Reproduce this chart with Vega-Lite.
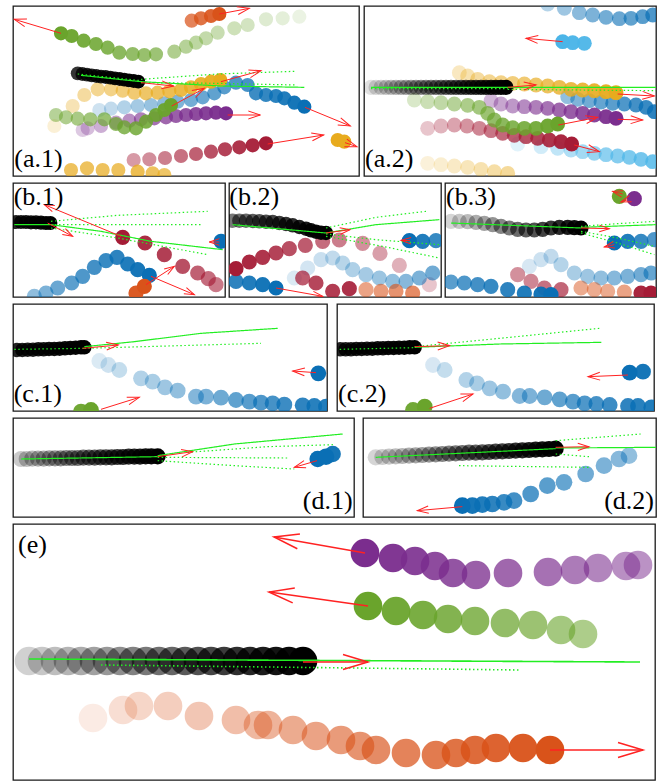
{
"$schema":"https://vega.github.io/schema/vega-lite/v6.json",
"background":"white",
"padding":{"left":12,"top":5,"right":0,"bottom":0},
"autosize":{"type":"pad"},
"spacing":5,
"config":{"view":{"stroke":"#1a1a1a","strokeWidth":1.3},"axis":{"disable":true},"legend":{"disable":true}},
"datasets":{
"a1":[
{"k":"d","g":"o","x":655,"y":42,"a":0},{"k":"d","g":"o","x":630,"y":48,"a":0.1},{"k":"d","g":"o","x":600,"y":55,"a":0.2},{"k":"d","g":"o","x":572,"y":62,"a":0.3},
{"k":"d","g":"g","x":180,"y":100,"a":0},{"k":"d","g":"g","x":212,"y":108,"a":0.05},{"k":"d","g":"g","x":248,"y":122,"a":0.1},{"k":"d","g":"g","x":285,"y":132,"a":0.15},{"k":"d","g":"g","x":320,"y":143,"a":0.2},{"k":"d","g":"g","x":355,"y":158,"a":0.25},{"k":"d","g":"g","x":395,"y":162,"a":0.3},{"k":"d","g":"g","x":430,"y":165,"a":0.33},{"k":"d","g":"g","x":465,"y":163,"a":0.37},{"k":"d","g":"g","x":520,"y":155,"a":0.5},{"k":"d","g":"g","x":555,"y":140,"a":0.55},{"k":"d","g":"g","x":585,"y":128,"a":0.6},{"k":"d","g":"g","x":615,"y":115,"a":0.64},{"k":"d","g":"g","x":650,"y":98,"a":0.68},{"k":"d","g":"g","x":700,"y":85,"a":0.72},{"k":"d","g":"g","x":740,"y":75,"a":0.76},{"k":"d","g":"g","x":795,"y":58,"a":0.84},{"k":"d","g":"g","x":845,"y":55,"a":0.88},{"k":"d","g":"g","x":895,"y":50,"a":0.93},
{"k":"d","g":"k","x":230,"y":220,"a":0.22},{"k":"d","g":"k","x":244,"y":222,"a":0.2},{"k":"d","g":"k","x":258,"y":224,"a":0.18},{"k":"d","g":"k","x":272,"y":226,"a":0.17},{"k":"d","g":"k","x":286,"y":228,"a":0.15},{"k":"d","g":"k","x":300,"y":230,"a":0.13},{"k":"d","g":"k","x":314,"y":231,"a":0.12},{"k":"d","g":"k","x":328,"y":233,"a":0.1},{"k":"d","g":"k","x":342,"y":235,"a":0.08},{"k":"d","g":"k","x":356,"y":237,"a":0.07},{"k":"d","g":"k","x":370,"y":239,"a":0.05},{"k":"d","g":"k","x":384,"y":241,"a":0.03},{"k":"d","g":"k","x":398,"y":243,"a":0.02},{"k":"d","g":"k","x":412,"y":245,"a":0},
{"k":"d","g":"y","x":658,"y":240,"a":0},{"k":"d","g":"y","x":630,"y":245,"a":0.05},{"k":"d","g":"y","x":600,"y":252,"a":0.1},{"k":"d","g":"y","x":570,"y":262,"a":0.15},{"k":"d","g":"y","x":540,"y":270,"a":0.2},{"k":"d","g":"y","x":505,"y":274,"a":0.25},{"k":"d","g":"y","x":470,"y":278,"a":0.3},{"k":"d","g":"y","x":435,"y":280,"a":0.35},{"k":"d","g":"y","x":400,"y":278,"a":0.4},{"k":"d","g":"y","x":365,"y":272,"a":0.45},{"k":"d","g":"y","x":330,"y":268,"a":0.5},{"k":"d","g":"y","x":290,"y":268,"a":0.55},{"k":"d","g":"y","x":250,"y":285,"a":0.62},{"k":"d","g":"y","x":215,"y":318,"a":0.72},{"k":"d","g":"y","x":160,"y":378,"a":0.88},
{"k":"d","g":"b","x":910,"y":320,"a":0},{"k":"d","g":"b","x":880,"y":308,"a":0.05},{"k":"d","g":"b","x":850,"y":295,"a":0.1},{"k":"d","g":"b","x":825,"y":288,"a":0.14},{"k":"d","g":"b","x":795,"y":285,"a":0.18},{"k":"d","g":"b","x":765,"y":280,"a":0.22},{"k":"d","g":"b","x":740,"y":255,"a":0.26},{"k":"d","g":"b","x":705,"y":248,"a":0.3},{"k":"d","g":"b","x":670,"y":262,"a":0.34},{"k":"d","g":"b","x":640,"y":280,"a":0.38},{"k":"d","g":"b","x":605,"y":292,"a":0.42},{"k":"d","g":"b","x":570,"y":300,"a":0.46},{"k":"d","g":"b","x":530,"y":305,"a":0.52},{"k":"d","g":"b","x":490,"y":310,"a":0.57},{"k":"d","g":"b","x":450,"y":315,"a":0.62},{"k":"d","g":"b","x":410,"y":318,"a":0.68},{"k":"d","g":"b","x":370,"y":322,"a":0.74},{"k":"d","g":"b","x":330,"y":326,"a":0.8},{"k":"d","g":"b","x":295,"y":330,"a":0.86},
{"k":"d","g":"p","x":675,"y":340,"a":0},{"k":"d","g":"p","x":645,"y":338,"a":0.05},{"k":"d","g":"p","x":615,"y":340,"a":0.1},{"k":"d","g":"p","x":585,"y":342,"a":0.15},{"k":"d","g":"p","x":555,"y":345,"a":0.2},{"k":"d","g":"p","x":525,"y":348,"a":0.25},{"k":"d","g":"p","x":495,"y":352,"a":0.3},{"k":"d","g":"p","x":460,"y":355,"a":0.35},{"k":"d","g":"p","x":420,"y":358,"a":0.42},{"k":"d","g":"p","x":385,"y":362,"a":0.5},{"k":"d","g":"p","x":345,"y":368,"a":0.58},{"k":"d","g":"p","x":300,"y":378,"a":0.66},{"k":"d","g":"p","x":260,"y":385,"a":0.74},{"k":"d","g":"p","x":245,"y":390,"a":0.8},
{"k":"d","g":"g","x":510,"y":315,"a":0},{"k":"d","g":"g","x":490,"y":330,"a":0.05},{"k":"d","g":"g","x":465,"y":345,"a":0.1},{"k":"d","g":"g","x":435,"y":365,"a":0.15},{"k":"d","g":"g","x":405,"y":385,"a":0.2},{"k":"d","g":"g","x":370,"y":382,"a":0.25},{"k":"d","g":"g","x":345,"y":372,"a":0.3},{"k":"d","g":"g","x":310,"y":358,"a":0.35},{"k":"d","g":"g","x":268,"y":358,"a":0.4},{"k":"d","g":"g","x":230,"y":356,"a":0.45},{"k":"d","g":"g","x":195,"y":352,"a":0.5},{"k":"d","g":"g","x":165,"y":345,"a":0.55},
{"k":"d","g":"r","x":795,"y":430,"a":0},{"k":"d","g":"r","x":755,"y":436,"a":0.06},{"k":"d","g":"r","x":715,"y":442,"a":0.12},{"k":"d","g":"r","x":672,"y":448,"a":0.18},{"k":"d","g":"r","x":630,"y":455,"a":0.25},{"k":"d","g":"r","x":585,"y":462,"a":0.32},{"k":"d","g":"r","x":540,"y":468,"a":0.4},{"k":"d","g":"r","x":492,"y":474,"a":0.47},{"k":"d","g":"r","x":445,"y":478,"a":0.54},{"k":"d","g":"r","x":398,"y":480,"a":0.6},
{"k":"d","g":"y","x":210,"y":510,"a":0.3},{"k":"d","g":"y","x":258,"y":505,"a":0.3},{"k":"d","g":"y","x":305,"y":510,"a":0.3},{"k":"d","g":"y","x":352,"y":510,"a":0.3},{"k":"d","g":"y","x":410,"y":515,"a":0.25},{"k":"d","g":"y","x":455,"y":520,"a":0.3},{"k":"d","g":"y","x":490,"y":525,"a":0.35},
{"k":"d","g":"y","x":1010,"y":420,"a":0},{"k":"d","g":"y","x":1030,"y":425,"a":0},
{"k":"l","id":"1","s":"solid","x":240,"y":226},{"k":"l","id":"1","s":"solid","x":420,"y":245},{"k":"l","id":"1","s":"solid","x":660,"y":258},{"k":"l","id":"1","s":"solid","x":910,"y":262},
{"k":"l","id":"2","s":"dot","x":420,"y":238},{"k":"l","id":"2","s":"dot","x":650,"y":222},{"k":"l","id":"2","s":"dot","x":880,"y":214},
{"k":"l","id":"3","s":"dot","x":420,"y":248},{"k":"l","id":"3","s":"dot","x":650,"y":250},{"k":"l","id":"3","s":"dot","x":885,"y":255},
{"k":"l","id":"4","s":"dot","x":230,"y":222},{"k":"l","id":"4","s":"dot","x":420,"y":242},
{"k":"v","x":655,"y":42,"x2":745,"y2":25},{"k":"v","x":180,"y":100,"x2":40,"y2":58},{"k":"v","x":420,"y":248,"x2":518,"y2":258},{"k":"v","x":660,"y":245,"x2":780,"y2":212},{"k":"v","x":912,"y":322,"x2":1048,"y2":378},{"k":"v","x":680,"y":345,"x2":778,"y2":345},{"k":"v","x":512,"y":318,"x2":610,"y2":265},{"k":"v","x":800,"y":432,"x2":968,"y2":405},{"k":"v","x":1032,"y":428,"x2":1068,"y2":440},
{"k":"t","x":40,"y":500,"txt":"(a.1)"}
],
"a2":[
{"k":"d","g":"b","x":875,"y":45,"a":0.3},{"k":"d","g":"b","x":845,"y":50,"a":0.34},{"k":"d","g":"b","x":810,"y":55,"a":0.38},{"k":"d","g":"b","x":775,"y":56,"a":0.42},{"k":"d","g":"b","x":735,"y":52,"a":0.46},{"k":"d","g":"b","x":695,"y":45,"a":0.5},{"k":"d","g":"b","x":655,"y":38,"a":0.56},{"k":"d","g":"b","x":610,"y":25,"a":0.65},{"k":"d","g":"b","x":560,"y":12,"a":0.75},
{"k":"d","g":"s","x":605,"y":125,"a":0},{"k":"d","g":"s","x":635,"y":128,"a":0.03},{"k":"d","g":"s","x":670,"y":130,"a":0.06},
{"k":"d","g":"y","x":765,"y":278,"a":0},{"k":"d","g":"y","x":735,"y":275,"a":0.05},{"k":"d","g":"y","x":700,"y":272,"a":0.1},{"k":"d","g":"y","x":665,"y":270,"a":0.15},{"k":"d","g":"y","x":630,"y":268,"a":0.2},{"k":"d","g":"y","x":595,"y":262,"a":0.25},{"k":"d","g":"y","x":560,"y":258,"a":0.3},{"k":"d","g":"y","x":525,"y":255,"a":0.35},{"k":"d","g":"y","x":490,"y":252,"a":0.4},{"k":"d","g":"y","x":455,"y":250,"a":0.45},{"k":"d","g":"y","x":420,"y":248,"a":0.5},{"k":"d","g":"y","x":385,"y":245,"a":0.55},{"k":"d","g":"y","x":350,"y":238,"a":0.62},{"k":"d","g":"y","x":320,"y":228,"a":0.7},{"k":"d","g":"y","x":295,"y":218,"a":0.78},
{"k":"d","g":"b","x":880,"y":335,"a":0.15},{"k":"d","g":"b","x":855,"y":322,"a":0.2},{"k":"d","g":"b","x":825,"y":315,"a":0.25},{"k":"d","g":"b","x":790,"y":312,"a":0.3},{"k":"d","g":"b","x":755,"y":310,"a":0.35},{"k":"d","g":"b","x":720,"y":306,"a":0.4},{"k":"d","g":"b","x":685,"y":302,"a":0.45},{"k":"d","g":"b","x":650,"y":298,"a":0.52},{"k":"d","g":"b","x":620,"y":290,"a":0.6},
{"k":"d","g":"p","x":765,"y":355,"a":0},{"k":"d","g":"p","x":735,"y":350,"a":0.06},{"k":"d","g":"p","x":700,"y":345,"a":0.12},{"k":"d","g":"p","x":665,"y":340,"a":0.18},{"k":"d","g":"p","x":630,"y":335,"a":0.24},{"k":"d","g":"p","x":595,"y":330,"a":0.3},{"k":"d","g":"p","x":560,"y":325,"a":0.36},{"k":"d","g":"p","x":525,"y":322,"a":0.42},{"k":"d","g":"p","x":490,"y":320,"a":0.48},{"k":"d","g":"p","x":455,"y":318,"a":0.55},{"k":"d","g":"p","x":420,"y":312,"a":0.62},{"k":"d","g":"p","x":390,"y":302,"a":0.7},
{"k":"d","g":"g","x":590,"y":372,"a":0},{"k":"d","g":"g","x":560,"y":378,"a":0.05},{"k":"d","g":"g","x":525,"y":385,"a":0.1},{"k":"d","g":"g","x":490,"y":385,"a":0.15},{"k":"d","g":"g","x":455,"y":383,"a":0.2},{"k":"d","g":"g","x":425,"y":375,"a":0.25},{"k":"d","g":"g","x":400,"y":360,"a":0.3},{"k":"d","g":"g","x":380,"y":340,"a":0.36},{"k":"d","g":"g","x":355,"y":322,"a":0.42},{"k":"d","g":"g","x":320,"y":316,"a":0.48},{"k":"d","g":"g","x":280,"y":312,"a":0.55},{"k":"d","g":"g","x":240,"y":308,"a":0.62},{"k":"d","g":"g","x":200,"y":305,"a":0.7},{"k":"d","g":"g","x":160,"y":300,"a":0.8},
{"k":"d","g":"r","x":632,"y":432,"a":0},{"k":"d","g":"r","x":600,"y":425,"a":0.06},{"k":"d","g":"r","x":565,"y":420,"a":0.12},{"k":"d","g":"r","x":530,"y":415,"a":0.18},{"k":"d","g":"r","x":495,"y":410,"a":0.24},{"k":"d","g":"r","x":460,"y":406,"a":0.3},{"k":"d","g":"r","x":425,"y":400,"a":0.36},{"k":"d","g":"r","x":390,"y":392,"a":0.42},{"k":"d","g":"r","x":355,"y":385,"a":0.5},{"k":"d","g":"r","x":318,"y":378,"a":0.57},{"k":"d","g":"r","x":280,"y":375,"a":0.64},{"k":"d","g":"r","x":240,"y":378,"a":0.72},{"k":"d","g":"r","x":200,"y":385,"a":0.8},
{"k":"d","g":"s","x":875,"y":485,"a":0.2},{"k":"d","g":"s","x":840,"y":478,"a":0.25},{"k":"d","g":"s","x":805,"y":472,"a":0.3},{"k":"d","g":"s","x":770,"y":468,"a":0.35},{"k":"d","g":"s","x":735,"y":464,"a":0.4},{"k":"d","g":"s","x":700,"y":460,"a":0.46},{"k":"d","g":"s","x":665,"y":455,"a":0.52},{"k":"d","g":"s","x":630,"y":450,"a":0.6},{"k":"d","g":"s","x":590,"y":445,"a":0.7},{"k":"d","g":"s","x":540,"y":440,"a":0.8},{"k":"d","g":"s","x":470,"y":432,"a":0.9},
{"k":"d","g":"y","x":440,"y":520,"a":0.6},{"k":"d","g":"y","x":400,"y":515,"a":0.65},{"k":"d","g":"y","x":360,"y":508,"a":0.7},{"k":"d","g":"y","x":320,"y":502,"a":0.75},{"k":"d","g":"y","x":280,"y":498,"a":0.8},{"k":"d","g":"y","x":240,"y":494,"a":0.85},{"k":"d","g":"y","x":200,"y":490,"a":0.9},
{"k":"d","g":"k","x":30,"y":262,"a":0.95},{"k":"d","g":"k","x":45,"y":262,"a":0.91},{"k":"d","g":"k","x":60,"y":262,"a":0.88},{"k":"d","g":"k","x":75,"y":262,"a":0.84},{"k":"d","g":"k","x":90,"y":262,"a":0.81},{"k":"d","g":"k","x":105,"y":262,"a":0.77},{"k":"d","g":"k","x":120,"y":262,"a":0.74},{"k":"d","g":"k","x":135,"y":262,"a":0.7},{"k":"d","g":"k","x":150,"y":262,"a":0.67},{"k":"d","g":"k","x":165,"y":262,"a":0.63},{"k":"d","g":"k","x":180,"y":262,"a":0.6},{"k":"d","g":"k","x":195,"y":262,"a":0.57},{"k":"d","g":"k","x":210,"y":262,"a":0.53},{"k":"d","g":"k","x":225,"y":262,"a":0.5},{"k":"d","g":"k","x":240,"y":262,"a":0.46},{"k":"d","g":"k","x":255,"y":262,"a":0.43},{"k":"d","g":"k","x":270,"y":262,"a":0.39},{"k":"d","g":"k","x":285,"y":262,"a":0.36},{"k":"d","g":"k","x":300,"y":262,"a":0.32},{"k":"d","g":"k","x":315,"y":262,"a":0.29},{"k":"d","g":"k","x":330,"y":262,"a":0.25},{"k":"d","g":"k","x":345,"y":262,"a":0.22},{"k":"d","g":"k","x":360,"y":262,"a":0.18},{"k":"d","g":"k","x":375,"y":262,"a":0.15},{"k":"d","g":"k","x":390,"y":262,"a":0.11},{"k":"d","g":"k","x":405,"y":262,"a":0.08},{"k":"d","g":"k","x":420,"y":262,"a":0.04},{"k":"d","g":"k","x":435,"y":262,"a":0},
{"k":"l","id":"1","s":"solid","x":30,"y":262},{"k":"l","id":"1","s":"solid","x":885,"y":262},
{"k":"l","id":"2","s":"dot","x":440,"y":268},{"k":"l","id":"2","s":"dot","x":885,"y":272},
{"k":"l","id":"3","s":"dot","x":30,"y":266},{"k":"l","id":"3","s":"dot","x":440,"y":266},
{"k":"v","x":605,"y":125,"x2":495,"y2":115},{"k":"v","x":440,"y":262,"x2":525,"y2":255},{"k":"v","x":770,"y":282,"x2":880,"y2":288},{"k":"v","x":770,"y":358,"x2":845,"y2":360},{"k":"v","x":592,"y":375,"x2":710,"y2":352},{"k":"v","x":640,"y":435,"x2":715,"y2":455},
{"k":"t","x":12,"y":500,"txt":"(a.2)"}
],
"b1":[
{"k":"d","g":"r","x":365,"y":178,"a":0},{"k":"d","g":"r","x":432,"y":195,"a":0.08},{"k":"d","g":"r","x":490,"y":230,"a":0.16},{"k":"d","g":"r","x":545,"y":265,"a":0.24},{"k":"d","g":"r","x":590,"y":285,"a":0.32},{"k":"d","g":"r","x":622,"y":302,"a":0.38},{"k":"d","g":"r","x":645,"y":320,"a":0.44},
{"k":"d","g":"b","x":660,"y":190,"a":0},
{"k":"d","g":"b","x":445,"y":292,"a":0},{"k":"d","g":"b","x":410,"y":275,"a":0.05},{"k":"d","g":"b","x":380,"y":258,"a":0.1},{"k":"d","g":"b","x":348,"y":238,"a":0.15},{"k":"d","g":"b","x":315,"y":248,"a":0.2},{"k":"d","g":"b","x":280,"y":268,"a":0.25},{"k":"d","g":"b","x":245,"y":295,"a":0.3},{"k":"d","g":"b","x":212,"y":315,"a":0.36},{"k":"d","g":"b","x":170,"y":330,"a":0.42},{"k":"d","g":"b","x":135,"y":345,"a":0.5},{"k":"d","g":"b","x":100,"y":355,"a":0.58},
{"k":"d","g":"o","x":405,"y":345,"a":0.05},{"k":"d","g":"o","x":430,"y":325,"a":0},
{"k":"d","g":"k","x":45,"y":132,"a":0.15},{"k":"d","g":"k","x":60,"y":132,"a":0.13},{"k":"d","g":"k","x":75,"y":132,"a":0.11},{"k":"d","g":"k","x":90,"y":133,"a":0.09},{"k":"d","g":"k","x":105,"y":133,"a":0.07},{"k":"d","g":"k","x":120,"y":134,"a":0.05},{"k":"d","g":"k","x":135,"y":135,"a":0.03},{"k":"d","g":"k","x":148,"y":135,"a":0},
{"k":"l","id":"1","s":"solid","x":150,"y":140},{"k":"l","id":"1","s":"solid","x":300,"y":160},{"k":"l","id":"1","s":"solid","x":450,"y":190},{"k":"l","id":"1","s":"solid","x":665,"y":215},
{"k":"l","id":"2","s":"dot","x":150,"y":130},{"k":"l","id":"2","s":"dot","x":350,"y":112},{"k":"l","id":"2","s":"dot","x":620,"y":100},
{"k":"l","id":"3","s":"dot","x":150,"y":140},{"k":"l","id":"3","s":"dot","x":400,"y":140},{"k":"l","id":"3","s":"dot","x":600,"y":140},
{"k":"l","id":"4","s":"dot","x":150,"y":150},{"k":"l","id":"4","s":"dot","x":350,"y":180},{"k":"l","id":"4","s":"dot","x":620,"y":230},
{"k":"l","id":"5","s":"solid","x":40,"y":140},{"k":"l","id":"5","s":"solid","x":150,"y":140},
{"k":"v","x":140,"y":135,"x2":215,"y2":175},{"k":"v","x":360,"y":175,"x2":130,"y2":80},{"k":"v","x":655,"y":192,"x2":625,"y2":192},{"k":"v","x":450,"y":295,"x2":580,"y2":350},{"k":"v","x":435,"y":320,"x2":520,"y2":265},
{"k":"t","x":38,"y":82,"txt":"(b.1)"}
],
"b2":[
{"k":"d","g":"b","x":620,"y":285,"a":0.45},{"k":"d","g":"b","x":580,"y":300,"a":0.5},{"k":"d","g":"b","x":540,"y":310,"a":0.55},{"k":"d","g":"b","x":500,"y":310,"a":0.6},{"k":"d","g":"b","x":460,"y":300,"a":0.64},{"k":"d","g":"b","x":420,"y":290,"a":0.68},{"k":"d","g":"b","x":380,"y":275,"a":0.72},{"k":"d","g":"b","x":350,"y":255,"a":0.76},{"k":"d","g":"b","x":320,"y":240,"a":0.8},{"k":"d","g":"b","x":285,"y":245,"a":0.84},{"k":"d","g":"b","x":245,"y":270,"a":0.88},{"k":"d","g":"b","x":205,"y":300,"a":0.92},
{"k":"d","g":"r","x":30,"y":272,"a":0},{"k":"d","g":"r","x":70,"y":252,"a":0.06},{"k":"d","g":"r","x":110,"y":238,"a":0.12},{"k":"d","g":"r","x":150,"y":225,"a":0.18},{"k":"d","g":"r","x":190,"y":212,"a":0.24},{"k":"d","g":"r","x":238,"y":202,"a":0.3},{"k":"d","g":"r","x":290,"y":190,"a":0.38},{"k":"d","g":"r","x":340,"y":186,"a":0.46},{"k":"d","g":"r","x":410,"y":196,"a":0.55},{"k":"d","g":"r","x":462,"y":226,"a":0.62},{"k":"d","g":"r","x":520,"y":262,"a":0.7},
{"k":"d","g":"b","x":550,"y":188,"a":0},{"k":"d","g":"b","x":590,"y":190,"a":0.1},{"k":"d","g":"b","x":630,"y":188,"a":0.2},
{"k":"d","g":"b","x":150,"y":330,"a":0},{"k":"d","g":"b","x":110,"y":320,"a":0.05},{"k":"d","g":"b","x":70,"y":315,"a":0.1},{"k":"d","g":"b","x":30,"y":310,"a":0.15},
{"k":"d","g":"r","x":370,"y":332,"a":0.1},{"k":"d","g":"r","x":320,"y":340,"a":0.15},{"k":"d","g":"r","x":270,"y":315,"a":0.2},{"k":"d","g":"r","x":230,"y":300,"a":0.3},
{"k":"d","g":"o","x":420,"y":335,"a":0.5},{"k":"d","g":"o","x":465,"y":340,"a":0.45},{"k":"d","g":"o","x":510,"y":340,"a":0.4},{"k":"d","g":"o","x":560,"y":345,"a":0.35},
{"k":"d","g":"r","x":610,"y":320,"a":0.8},
{"k":"d","g":"k","x":20,"y":128,"a":0.5},{"k":"d","g":"k","x":40,"y":128,"a":0.46},{"k":"d","g":"k","x":60,"y":128,"a":0.43},{"k":"d","g":"k","x":80,"y":129,"a":0.39},{"k":"d","g":"k","x":100,"y":130,"a":0.36},{"k":"d","g":"k","x":120,"y":131,"a":0.32},{"k":"d","g":"k","x":140,"y":132,"a":0.29},{"k":"d","g":"k","x":160,"y":135,"a":0.25},{"k":"d","g":"k","x":180,"y":138,"a":0.21},{"k":"d","g":"k","x":200,"y":142,"a":0.18},{"k":"d","g":"k","x":220,"y":147,"a":0.14},{"k":"d","g":"k","x":240,"y":152,"a":0.11},{"k":"d","g":"k","x":255,"y":157,"a":0.08},{"k":"d","g":"k","x":270,"y":161,"a":0.05},{"k":"d","g":"k","x":285,"y":164,"a":0.03},{"k":"d","g":"k","x":300,"y":165,"a":0},
{"k":"l","id":"1","s":"solid","x":300,"y":165},{"k":"l","id":"1","s":"solid","x":450,"y":140},{"k":"l","id":"1","s":"solid","x":640,"y":125},
{"k":"l","id":"2","s":"dot","x":300,"y":150},{"k":"l","id":"2","s":"dot","x":450,"y":118},{"k":"l","id":"2","s":"dot","x":600,"y":100},
{"k":"l","id":"3","s":"dot","x":300,"y":175},{"k":"l","id":"3","s":"dot","x":470,"y":205},{"k":"l","id":"3","s":"dot","x":640,"y":240},
{"k":"l","id":"4","s":"dot","x":300,"y":168},{"k":"l","id":"4","s":"dot","x":450,"y":185},{"k":"l","id":"4","s":"dot","x":640,"y":200},
{"k":"l","id":"5","s":"solid","x":20,"y":140},{"k":"l","id":"5","s":"solid","x":300,"y":165},
{"k":"v","x":300,"y":165,"x2":372,"y2":155},{"k":"v","x":552,"y":188,"x2":525,"y2":187},{"k":"v","x":150,"y":330,"x2":290,"y2":355},
{"k":"t","x":10,"y":82,"txt":"(b.2)"}
],
"b3":[
{"k":"d","g":"g","x":535,"y":55,"a":0},{"k":"d","g":"p","x":580,"y":62,"a":0},
{"k":"d","g":"b","x":640,"y":185,"a":0.3},{"k":"d","g":"b","x":600,"y":190,"a":0.2},{"k":"d","g":"b","x":560,"y":190,"a":0.1},{"k":"d","g":"b","x":520,"y":195,"a":0},
{"k":"d","g":"b","x":630,"y":285,"a":0.4},{"k":"d","g":"b","x":600,"y":290,"a":0.45},{"k":"d","g":"b","x":560,"y":295,"a":0.5},{"k":"d","g":"b","x":520,"y":300,"a":0.55},{"k":"d","g":"b","x":480,"y":300,"a":0.6},{"k":"d","g":"b","x":440,"y":295,"a":0.65},{"k":"d","g":"b","x":400,"y":285,"a":0.7},{"k":"d","g":"b","x":360,"y":260,"a":0.75},{"k":"d","g":"b","x":330,"y":235,"a":0.8},{"k":"d","g":"b","x":300,"y":245,"a":0.85},{"k":"d","g":"b","x":265,"y":265,"a":0.9},
{"k":"d","g":"b","x":330,"y":350,"a":0},{"k":"d","g":"b","x":300,"y":348,"a":0.05},{"k":"d","g":"b","x":250,"y":345,"a":0.1},{"k":"d","g":"b","x":200,"y":335,"a":0.15},{"k":"d","g":"b","x":150,"y":325,"a":0.2},{"k":"d","g":"b","x":110,"y":320,"a":0.25},{"k":"d","g":"b","x":70,"y":315,"a":0.3},{"k":"d","g":"b","x":30,"y":312,"a":0.35},
{"k":"d","g":"r","x":230,"y":290,"a":0.55},{"k":"d","g":"r","x":270,"y":310,"a":0.5},{"k":"d","g":"r","x":310,"y":330,"a":0.4},{"k":"d","g":"r","x":360,"y":335,"a":0.35},{"k":"d","g":"r","x":600,"y":345,"a":0.05},{"k":"d","g":"r","x":630,"y":345,"a":0},
{"k":"d","g":"o","x":420,"y":330,"a":0.55},{"k":"d","g":"o","x":460,"y":335,"a":0.55},{"k":"d","g":"o","x":500,"y":340,"a":0.55},{"k":"d","g":"o","x":550,"y":342,"a":0.5},
{"k":"d","g":"k","x":30,"y":130,"a":0.9},{"k":"d","g":"k","x":55,"y":130,"a":0.84},{"k":"d","g":"k","x":80,"y":131,"a":0.79},{"k":"d","g":"k","x":105,"y":133,"a":0.73},{"k":"d","g":"k","x":130,"y":136,"a":0.68},{"k":"d","g":"k","x":155,"y":140,"a":0.62},{"k":"d","g":"k","x":180,"y":145,"a":0.56},{"k":"d","g":"k","x":205,"y":150,"a":0.51},{"k":"d","g":"k","x":230,"y":154,"a":0.45},{"k":"d","g":"k","x":255,"y":156,"a":0.39},{"k":"d","g":"k","x":280,"y":156,"a":0.34},{"k":"d","g":"k","x":305,"y":154,"a":0.28},{"k":"d","g":"k","x":330,"y":150,"a":0.23},{"k":"d","g":"k","x":355,"y":148,"a":0.17},{"k":"d","g":"k","x":380,"y":148,"a":0.11},{"k":"d","g":"k","x":400,"y":149,"a":0.06},{"k":"d","g":"k","x":420,"y":150,"a":0},
{"k":"l","id":"1","s":"dot","x":420,"y":145},{"k":"l","id":"1","s":"dot","x":530,"y":137},{"k":"l","id":"1","s":"dot","x":645,"y":130},
{"k":"l","id":"2","s":"solid","x":420,"y":148},{"k":"l","id":"2","s":"solid","x":645,"y":140},
{"k":"l","id":"3","s":"dot","x":420,"y":165},{"k":"l","id":"3","s":"dot","x":530,"y":195},{"k":"l","id":"3","s":"dot","x":640,"y":230},
{"k":"l","id":"4","s":"dot","x":420,"y":160},{"k":"l","id":"4","s":"dot","x":530,"y":180},{"k":"l","id":"4","s":"dot","x":640,"y":205},
{"k":"l","id":"5","s":"solid","x":30,"y":135},{"k":"l","id":"5","s":"solid","x":420,"y":150},
{"k":"v","x":420,"y":150,"x2":505,"y2":152},{"k":"v","x":545,"y":48,"x2":515,"y2":40},{"k":"v","x":560,"y":65,"x2":540,"y2":72},{"k":"v","x":520,"y":200,"x2":490,"y2":207},
{"k":"t","x":15,"y":82,"txt":"(b.3)"}
],
"c1":[
{"k":"d","g":"b","x":975,"y":320,"a":0.1},{"k":"d","g":"b","x":940,"y":318,"a":0.13},{"k":"d","g":"b","x":905,"y":316,"a":0.16},{"k":"d","g":"b","x":850,"y":314,"a":0.22},{"k":"d","g":"b","x":815,"y":310,"a":0.26},{"k":"d","g":"b","x":780,"y":308,"a":0.3},{"k":"d","g":"b","x":745,"y":305,"a":0.34},{"k":"d","g":"b","x":705,"y":300,"a":0.38},{"k":"d","g":"b","x":660,"y":293,"a":0.44},{"k":"d","g":"b","x":615,"y":290,"a":0.5},{"k":"d","g":"b","x":585,"y":290,"a":0.53},{"k":"d","g":"b","x":530,"y":272,"a":0.6},{"k":"d","g":"b","x":492,"y":262,"a":0.65},{"k":"d","g":"b","x":455,"y":245,"a":0.7},{"k":"d","g":"b","x":420,"y":235,"a":0.74},{"k":"d","g":"b","x":355,"y":210,"a":0.82},{"k":"d","g":"b","x":322,"y":195,"a":0.86},{"k":"d","g":"b","x":295,"y":183,"a":0.92},
{"k":"d","g":"b","x":952,"y":220,"a":0},
{"k":"d","g":"g","x":270,"y":330,"a":0},{"k":"d","g":"g","x":240,"y":335,"a":0.05},
{"k":"d","g":"k","x":48,"y":150,"a":0.15},{"k":"d","g":"k","x":64,"y":150,"a":0.14},{"k":"d","g":"k","x":80,"y":149,"a":0.13},{"k":"d","g":"k","x":96,"y":149,"a":0.12},{"k":"d","g":"k","x":112,"y":148,"a":0.11},{"k":"d","g":"k","x":128,"y":148,"a":0.1},{"k":"d","g":"k","x":144,"y":147,"a":0.08},{"k":"d","g":"k","x":160,"y":147,"a":0.07},{"k":"d","g":"k","x":176,"y":146,"a":0.06},{"k":"d","g":"k","x":192,"y":145,"a":0.05},{"k":"d","g":"k","x":208,"y":144,"a":0.04},{"k":"d","g":"k","x":224,"y":143,"a":0.02},{"k":"d","g":"k","x":240,"y":142,"a":0.01},{"k":"d","g":"k","x":250,"y":142,"a":0},
{"k":"l","id":"1","s":"solid","x":250,"y":140},{"k":"l","id":"1","s":"solid","x":400,"y":125},{"k":"l","id":"1","s":"solid","x":600,"y":100},{"k":"l","id":"1","s":"solid","x":830,"y":85},
{"k":"l","id":"2","s":"dot","x":250,"y":145},{"k":"l","id":"2","s":"dot","x":500,"y":138},{"k":"l","id":"2","s":"dot","x":780,"y":130},
{"k":"l","id":"3","s":"dot","x":40,"y":148},{"k":"l","id":"3","s":"dot","x":250,"y":145},
{"k":"v","x":245,"y":145,"x2":352,"y2":135},{"k":"v","x":945,"y":218,"x2":875,"y2":213},{"k":"v","x":300,"y":328,"x2":415,"y2":292},
{"k":"t","x":38,"y":307,"txt":"(c.1)"}
],
"c2":[
{"k":"d","g":"b","x":955,"y":322,"a":0.1},{"k":"d","g":"b","x":915,"y":318,"a":0.13},{"k":"d","g":"b","x":885,"y":318,"a":0.16},{"k":"d","g":"b","x":830,"y":315,"a":0.22},{"k":"d","g":"b","x":790,"y":312,"a":0.26},{"k":"d","g":"b","x":755,"y":310,"a":0.3},{"k":"d","g":"b","x":720,"y":305,"a":0.34},{"k":"d","g":"b","x":680,"y":298,"a":0.38},{"k":"d","g":"b","x":635,"y":292,"a":0.44},{"k":"d","g":"b","x":590,"y":288,"a":0.5},{"k":"d","g":"b","x":560,"y":288,"a":0.53},{"k":"d","g":"b","x":510,"y":275,"a":0.6},{"k":"d","g":"b","x":470,"y":265,"a":0.65},{"k":"d","g":"b","x":432,"y":250,"a":0.7},{"k":"d","g":"b","x":400,"y":240,"a":0.74},{"k":"d","g":"b","x":335,"y":210,"a":0.82},{"k":"d","g":"b","x":300,"y":195,"a":0.9},
{"k":"d","g":"b","x":890,"y":218,"a":0},{"k":"d","g":"b","x":930,"y":215,"a":0.05},
{"k":"d","g":"g","x":275,"y":320,"a":0},{"k":"d","g":"g","x":240,"y":330,"a":0.05},
{"k":"d","g":"k","x":22,"y":148,"a":0.15},{"k":"d","g":"k","x":38,"y":148,"a":0.14},{"k":"d","g":"k","x":54,"y":148,"a":0.13},{"k":"d","g":"k","x":70,"y":147,"a":0.12},{"k":"d","g":"k","x":86,"y":147,"a":0.11},{"k":"d","g":"k","x":102,"y":146,"a":0.1},{"k":"d","g":"k","x":118,"y":146,"a":0.09},{"k":"d","g":"k","x":134,"y":145,"a":0.08},{"k":"d","g":"k","x":150,"y":145,"a":0.07},{"k":"d","g":"k","x":166,"y":144,"a":0.06},{"k":"d","g":"k","x":182,"y":144,"a":0.05},{"k":"d","g":"k","x":198,"y":143,"a":0.04},{"k":"d","g":"k","x":214,"y":143,"a":0.02},{"k":"d","g":"k","x":230,"y":142,"a":0.01},{"k":"d","g":"k","x":245,"y":142,"a":0},
{"k":"l","id":"1","s":"solid","x":245,"y":142},{"k":"l","id":"1","s":"solid","x":500,"y":132},{"k":"l","id":"1","s":"solid","x":805,"y":127},
{"k":"l","id":"2","s":"dot","x":245,"y":140},{"k":"l","id":"2","s":"dot","x":500,"y":115},{"k":"l","id":"2","s":"dot","x":800,"y":85},
{"k":"l","id":"3","s":"dot","x":20,"y":148},{"k":"l","id":"3","s":"dot","x":245,"y":143},
{"k":"v","x":245,"y":140,"x2":350,"y2":137},{"k":"v","x":885,"y":225,"x2":765,"y2":230},{"k":"v","x":290,"y":325,"x2":420,"y2":282},
{"k":"t","x":15,"y":307,"txt":"(c.2)"}
],
"d1":[
{"k":"d","g":"b","x":950,"y":135,"a":0},{"k":"d","g":"b","x":975,"y":128,"a":0},{"k":"d","g":"b","x":995,"y":120,"a":0.05},
{"k":"d","g":"k","x":60,"y":135,"a":0.85},{"k":"d","g":"k","x":77,"y":135,"a":0.81},{"k":"d","g":"k","x":94,"y":134,"a":0.78},{"k":"d","g":"k","x":111,"y":134,"a":0.74},{"k":"d","g":"k","x":128,"y":134,"a":0.71},{"k":"d","g":"k","x":145,"y":133,"a":0.67},{"k":"d","g":"k","x":162,"y":133,"a":0.64},{"k":"d","g":"k","x":179,"y":133,"a":0.6},{"k":"d","g":"k","x":196,"y":132,"a":0.57},{"k":"d","g":"k","x":213,"y":132,"a":0.53},{"k":"d","g":"k","x":230,"y":132,"a":0.5},{"k":"d","g":"k","x":247,"y":131,"a":0.46},{"k":"d","g":"k","x":264,"y":131,"a":0.43},{"k":"d","g":"k","x":281,"y":131,"a":0.39},{"k":"d","g":"k","x":298,"y":130,"a":0.36},{"k":"d","g":"k","x":315,"y":130,"a":0.32},{"k":"d","g":"k","x":332,"y":130,"a":0.29},{"k":"d","g":"k","x":349,"y":129,"a":0.25},{"k":"d","g":"k","x":366,"y":129,"a":0.22},{"k":"d","g":"k","x":383,"y":128,"a":0.18},{"k":"d","g":"k","x":400,"y":128,"a":0.15},{"k":"d","g":"k","x":417,"y":128,"a":0.11},{"k":"d","g":"k","x":434,"y":127,"a":0.07},{"k":"d","g":"k","x":451,"y":127,"a":0.04},{"k":"d","g":"k","x":470,"y":127,"a":0},
{"k":"l","id":"1","s":"solid","x":60,"y":135},{"k":"l","id":"1","s":"solid","x":470,"y":128},
{"k":"l","id":"2","s":"solid","x":470,"y":125},{"k":"l","id":"2","s":"solid","x":700,"y":90},{"k":"l","id":"2","s":"solid","x":1025,"y":60},
{"k":"l","id":"3","s":"dot","x":560,"y":115},{"k":"l","id":"3","s":"dot","x":800,"y":98},{"k":"l","id":"3","s":"dot","x":1000,"y":92},
{"k":"l","id":"4","s":"dot","x":470,"y":130},{"k":"l","id":"4","s":"dot","x":860,"y":132},
{"k":"l","id":"5","s":"dot","x":470,"y":140},{"k":"l","id":"5","s":"dot","x":700,"y":155},{"k":"l","id":"5","s":"dot","x":880,"y":165},
{"k":"v","x":470,"y":128,"x2":575,"y2":113},{"k":"v","x":948,"y":140,"x2":880,"y2":160},
{"k":"t","x":1055,"y":285,"txt":"(d.1)"}
],
"d2":[
{"k":"d","g":"b","x":310,"y":275,"a":0},{"k":"d","g":"b","x":340,"y":275,"a":0.05},{"k":"d","g":"b","x":370,"y":272,"a":0.1},{"k":"d","g":"b","x":400,"y":270,"a":0.15},{"k":"d","g":"b","x":435,"y":265,"a":0.2},{"k":"d","g":"b","x":465,"y":260,"a":0.25},{"k":"d","g":"b","x":515,"y":240,"a":0.3},{"k":"d","g":"b","x":565,"y":215,"a":0.35},{"k":"d","g":"b","x":615,"y":205,"a":0.4},{"k":"d","g":"b","x":680,"y":180,"a":0.45},{"k":"d","g":"b","x":735,"y":155,"a":0.5},{"k":"d","g":"b","x":780,"y":135,"a":0.55},{"k":"d","g":"b","x":810,"y":125,"a":0.6},
{"k":"d","g":"k","x":50,"y":130,"a":0.9},{"k":"d","g":"k","x":70,"y":129,"a":0.87},{"k":"d","g":"k","x":90,"y":128,"a":0.83},{"k":"d","g":"k","x":110,"y":127,"a":0.8},{"k":"d","g":"k","x":130,"y":126,"a":0.77},{"k":"d","g":"k","x":150,"y":125,"a":0.73},{"k":"d","g":"k","x":170,"y":124,"a":0.7},{"k":"d","g":"k","x":190,"y":123,"a":0.67},{"k":"d","g":"k","x":210,"y":122,"a":0.63},{"k":"d","g":"k","x":230,"y":121,"a":0.6},{"k":"d","g":"k","x":250,"y":120,"a":0.57},{"k":"d","g":"k","x":270,"y":119,"a":0.53},{"k":"d","g":"k","x":290,"y":118,"a":0.5},{"k":"d","g":"k","x":310,"y":117,"a":0.47},{"k":"d","g":"k","x":330,"y":116,"a":0.43},{"k":"d","g":"k","x":350,"y":116,"a":0.4},{"k":"d","g":"k","x":370,"y":115,"a":0.37},{"k":"d","g":"k","x":390,"y":114,"a":0.33},{"k":"d","g":"k","x":410,"y":113,"a":0.3},{"k":"d","g":"k","x":430,"y":112,"a":0.27},{"k":"d","g":"k","x":450,"y":111,"a":0.23},{"k":"d","g":"k","x":470,"y":110,"a":0.2},{"k":"d","g":"k","x":490,"y":109,"a":0.17},{"k":"d","g":"k","x":510,"y":108,"a":0.13},{"k":"d","g":"k","x":530,"y":107,"a":0.1},{"k":"d","g":"k","x":550,"y":106,"a":0.07},{"k":"d","g":"k","x":570,"y":105,"a":0.03},{"k":"d","g":"k","x":590,"y":104,"a":0},
{"k":"l","id":"1","s":"solid","x":50,"y":130},{"k":"l","id":"1","s":"solid","x":590,"y":104},
{"k":"l","id":"2","s":"solid","x":590,"y":102},{"k":"l","id":"2","s":"solid","x":891,"y":100},
{"k":"l","id":"3","s":"dot","x":590,"y":80},{"k":"l","id":"3","s":"dot","x":845,"y":60},
{"k":"l","id":"4","s":"dot","x":590,"y":120},{"k":"l","id":"4","s":"dot","x":690,"y":128},
{"k":"l","id":"5","s":"dot","x":300,"y":155},{"k":"l","id":"5","s":"dot","x":690,"y":160},
{"k":"v","x":590,"y":100,"x2":690,"y2":98},{"k":"v","x":310,"y":278,"x2":175,"y2":290},
{"k":"t","x":885,"y":285,"txt":"(d.2)"}
],
"e":[
{"k":"d","g":"p","x":364,"y":553,"a":0},{"k":"d","g":"p","x":392,"y":558,"a":0.05},{"k":"d","g":"p","x":414,"y":561,"a":0.1},{"k":"d","g":"p","x":434,"y":566,"a":0.15},{"k":"d","g":"p","x":452,"y":573,"a":0.2},{"k":"d","g":"p","x":475,"y":575,"a":0.25},{"k":"d","g":"p","x":507,"y":573,"a":0.3},{"k":"d","g":"p","x":547,"y":572,"a":0.35},{"k":"d","g":"p","x":574,"y":570,"a":0.4},{"k":"d","g":"p","x":597,"y":568,"a":0.45},{"k":"d","g":"p","x":625,"y":566,"a":0.5},{"k":"d","g":"p","x":637,"y":565,"a":0.52},
{"k":"d","g":"g","x":367,"y":606,"a":0},{"k":"d","g":"g","x":395,"y":611,"a":0.06},{"k":"d","g":"g","x":422,"y":615,"a":0.12},{"k":"d","g":"g","x":447,"y":619,"a":0.18},{"k":"d","g":"g","x":474,"y":621,"a":0.24},{"k":"d","g":"g","x":504,"y":623,"a":0.3},{"k":"d","g":"g","x":532,"y":625,"a":0.36},{"k":"d","g":"g","x":560,"y":630,"a":0.42},{"k":"d","g":"g","x":582,"y":634,"a":0.48},
{"k":"d","g":"o","x":549,"y":750,"a":0},{"k":"d","g":"o","x":522,"y":748,"a":0.05},{"k":"d","g":"o","x":495,"y":748,"a":0.1},{"k":"d","g":"o","x":474,"y":750,"a":0.15},{"k":"d","g":"o","x":455,"y":753,"a":0.2},{"k":"d","g":"o","x":435,"y":755,"a":0.25},{"k":"d","g":"o","x":405,"y":753,"a":0.3},{"k":"d","g":"o","x":375,"y":750,"a":0.35},{"k":"d","g":"o","x":359,"y":746,"a":0.4},{"k":"d","g":"o","x":340,"y":740,"a":0.45},{"k":"d","g":"o","x":315,"y":736,"a":0.5},{"k":"d","g":"o","x":292,"y":730,"a":0.55},{"k":"d","g":"o","x":267,"y":725,"a":0.6},{"k":"d","g":"o","x":257,"y":725,"a":0.63},{"k":"d","g":"o","x":235,"y":720,"a":0.67},{"k":"d","g":"o","x":198,"y":716,"a":0.72},{"k":"d","g":"o","x":167,"y":706,"a":0.77},{"k":"d","g":"o","x":138,"y":706,"a":0.82},{"k":"d","g":"o","x":122,"y":710,"a":0.87},{"k":"d","g":"o","x":92,"y":718,"a":0.95},
{"k":"d","g":"k","x":28,"y":661,"a":0.88},{"k":"d","g":"k","x":41,"y":661,"a":0.84},{"k":"d","g":"k","x":54,"y":661,"a":0.8},{"k":"d","g":"k","x":67,"y":661,"a":0.76},{"k":"d","g":"k","x":80,"y":661,"a":0.72},{"k":"d","g":"k","x":93,"y":661,"a":0.68},{"k":"d","g":"k","x":106,"y":661,"a":0.64},{"k":"d","g":"k","x":119,"y":661,"a":0.6},{"k":"d","g":"k","x":132,"y":661,"a":0.55},{"k":"d","g":"k","x":145,"y":661,"a":0.51},{"k":"d","g":"k","x":158,"y":661,"a":0.47},{"k":"d","g":"k","x":171,"y":661,"a":0.43},{"k":"d","g":"k","x":184,"y":661,"a":0.38},{"k":"d","g":"k","x":197,"y":661,"a":0.34},{"k":"d","g":"k","x":210,"y":661,"a":0.29},{"k":"d","g":"k","x":223,"y":661,"a":0.25},{"k":"d","g":"k","x":236,"y":661,"a":0.2},{"k":"d","g":"k","x":249,"y":661,"a":0.16},{"k":"d","g":"k","x":262,"y":661,"a":0.12},{"k":"d","g":"k","x":275,"y":661,"a":0.08},{"k":"d","g":"k","x":288,"y":661,"a":0.04},{"k":"d","g":"k","x":302,"y":661,"a":0},
{"k":"l","id":"1","s":"solid","x":28,"y":659},{"k":"l","id":"1","s":"solid","x":639,"y":662},
{"k":"l","id":"2","s":"dot","x":100,"y":665},{"k":"l","id":"2","s":"dot","x":519,"y":670},
{"k":"v","x":364,"y":553,"x2":273,"y2":537},{"k":"v","x":367,"y":606,"x2":268,"y2":592},{"k":"v","x":302,"y":662,"x2":367,"y2":662},{"k":"v","x":549,"y":750,"x2":642,"y2":750},
{"k":"t","x":17,"y":553,"txt":"(e)"}
]
},
"vconcat":[
{"hconcat":[
{"width":346,"height":170,"data":{"name":"a1"},
"encoding":{"x":{"field":"x","type":"quantitative","scale":{"domain":[36,1074],"nice":false}},"y":{"field":"y","type":"quantitative","scale":{"domain":[18,528],"nice":false,"reverse":true}}},
"layer":[
{"transform":[{"filter":"datum.k=='d' && datum.g!='k'"}],"mark":{"type":"point","filled":true,"size":200,"clip":true},"encoding":{"color":{"field":"g","type":"nominal","scale":{"domain":["k","g","p","o","b","r","y","s"],"range":["#000000","#6aa42c","#7b2d8e","#d9531a","#0a6fb5","#a51c36","#e8ab1e","#4bb5e8"]}},"opacity":{"field":"a","type":"quantitative","scale":{"domain":[0,1],"range":[1,0.07]}},"order":{"field":"a","type":"quantitative","sort":"descending"}}},
{"transform":[{"filter":"datum.k=='d' && datum.g=='k'"}],"mark":{"type":"point","filled":true,"size":190,"clip":true},"encoding":{"color":{"field":"g","type":"nominal"},"opacity":{"field":"a","type":"quantitative"},"order":{"field":"a","type":"quantitative","sort":"descending"}}},
{"transform":[{"filter":"datum.k=='l'"}],"mark":{"type":"line","color":"#22ee22","strokeWidth":1.2,"clip":true},"encoding":{"detail":{"field":"id","type":"nominal"},"strokeDash":{"field":"s","type":"nominal","scale":{"domain":["solid","dot"],"range":[[1,0],[1.5,2.5]]}}}},
{"transform":[{"filter":"datum.k=='v'"}],"mark":{"type":"rule","color":"#ff2222","strokeWidth":1,"clip":true},"encoding":{"x2":{"field":"x2"},"y2":{"field":"y2"}}},
{"transform":[{"filter":"datum.k=='v'"},{"calculate":"atan2(datum.y2-datum.y,datum.x2-datum.x)*180/PI","as":"ang"}],"mark":{"type":"point","shape":"M -1 -0.33 L 0 0 L -1 0.33","filled":false,"color":"#ff2222","strokeWidth":1,"size":576,"opacity":1,"clip":true},"encoding":{"x":{"field":"x2","type":"quantitative"},"y":{"field":"y2","type":"quantitative"},"angle":{"field":"ang","type":"quantitative","scale":null}}},
{"transform":[{"filter":"datum.k=='t'"}],"mark":{"type":"text","font":"Liberation Serif","fontSize":26,"align":"left","baseline":"alphabetic","color":"black"},"encoding":{"text":{"field":"txt"}}}
]},
{"width":292,"height":170,"data":{"name":"a2"},
"encoding":{"x":{"field":"x","type":"quantitative","scale":{"domain":[9,885],"nice":false}},"y":{"field":"y","type":"quantitative","scale":{"domain":[18,528],"nice":false,"reverse":true}}},
"layer":[
{"transform":[{"filter":"datum.k=='d' && datum.g!='k'"}],"mark":{"type":"point","filled":true,"size":220,"clip":true},"encoding":{"color":{"field":"g","type":"nominal"},"opacity":{"field":"a","type":"quantitative"},"order":{"field":"a","type":"quantitative","sort":"descending"}}},
{"transform":[{"filter":"datum.k=='d' && datum.g=='k'"}],"mark":{"type":"point","filled":true,"size":230,"clip":true},"encoding":{"color":{"field":"g","type":"nominal"},"opacity":{"field":"a","type":"quantitative"},"order":{"field":"a","type":"quantitative","sort":"descending"}}},
{"transform":[{"filter":"datum.k=='l'"}],"mark":{"type":"line","color":"#22ee22","strokeWidth":1.2,"clip":true},"encoding":{"detail":{"field":"id","type":"nominal"},"strokeDash":{"field":"s","type":"nominal"}}},
{"transform":[{"filter":"datum.k=='v'"}],"mark":{"type":"rule","color":"#ff2222","strokeWidth":1,"clip":true},"encoding":{"x2":{"field":"x2"},"y2":{"field":"y2"}}},
{"transform":[{"filter":"datum.k=='v'"},{"calculate":"atan2(datum.y2-datum.y,datum.x2-datum.x)*180/PI","as":"ang"}],"mark":{"type":"point","shape":"M -1 -0.33 L 0 0 L -1 0.33","filled":false,"color":"#ff2222","strokeWidth":1,"size":576,"opacity":1,"clip":true},"encoding":{"x":{"field":"x2","type":"quantitative"},"y":{"field":"y2","type":"quantitative"},"angle":{"field":"ang","type":"quantitative","scale":null}}},
{"transform":[{"filter":"datum.k=='t'"}],"mark":{"type":"text","font":"Liberation Serif","fontSize":26,"align":"left","baseline":"alphabetic","color":"black"},"encoding":{"text":{"field":"txt"}}}
]}
],"spacing":5,"bounds":"flush"},
{"hconcat":[
{"width":212,"height":114,"data":{"name":"b1"},
"encoding":{"x":{"field":"x","type":"quantitative","scale":{"domain":[36,672],"nice":false}},"y":{"field":"y","type":"quantitative","scale":{"domain":[15,357],"nice":false,"reverse":true}}},
"layer":[
{"transform":[{"filter":"datum.k=='d' && datum.g!='k'"}],"mark":{"type":"point","filled":true,"size":230,"clip":true},"encoding":{"color":{"field":"g","type":"nominal"},"opacity":{"field":"a","type":"quantitative"},"order":{"field":"a","type":"quantitative","sort":"descending"}}},
{"transform":[{"filter":"datum.k=='d' && datum.g=='k'"}],"mark":{"type":"point","filled":true,"size":200,"clip":true},"encoding":{"color":{"field":"g","type":"nominal"},"opacity":{"field":"a","type":"quantitative"},"order":{"field":"a","type":"quantitative","sort":"descending"}}},
{"transform":[{"filter":"datum.k=='l'"}],"mark":{"type":"line","color":"#22ee22","strokeWidth":1.2,"clip":true},"encoding":{"detail":{"field":"id","type":"nominal"},"strokeDash":{"field":"s","type":"nominal"}}},
{"transform":[{"filter":"datum.k=='v'"}],"mark":{"type":"rule","color":"#ff2222","strokeWidth":1,"clip":true},"encoding":{"x2":{"field":"x2"},"y2":{"field":"y2"}}},
{"transform":[{"filter":"datum.k=='v'"},{"calculate":"atan2(datum.y2-datum.y,datum.x2-datum.x)*180/PI","as":"ang"}],"mark":{"type":"point","shape":"M -1 -0.33 L 0 0 L -1 0.33","filled":false,"color":"#ff2222","strokeWidth":1,"size":400,"opacity":1,"clip":true},"encoding":{"x":{"field":"x2","type":"quantitative"},"y":{"field":"y2","type":"quantitative"},"angle":{"field":"ang","type":"quantitative","scale":null}}},
{"transform":[{"filter":"datum.k=='t'"}],"mark":{"type":"text","font":"Liberation Serif","fontSize":26,"align":"left","baseline":"alphabetic","color":"black"},"encoding":{"text":{"field":"txt"}}}
]},
{"width":212,"height":114,"data":{"name":"b2"},
"encoding":{"x":{"field":"x","type":"quantitative","scale":{"domain":[9,645],"nice":false}},"y":{"field":"y","type":"quantitative","scale":{"domain":[15,357],"nice":false,"reverse":true}}},
"layer":[
{"transform":[{"filter":"datum.k=='d' && datum.g!='k'"}],"mark":{"type":"point","filled":true,"size":230,"clip":true},"encoding":{"color":{"field":"g","type":"nominal"},"opacity":{"field":"a","type":"quantitative"},"order":{"field":"a","type":"quantitative","sort":"descending"}}},
{"transform":[{"filter":"datum.k=='d' && datum.g=='k'"}],"mark":{"type":"point","filled":true,"size":210,"clip":true},"encoding":{"color":{"field":"g","type":"nominal"},"opacity":{"field":"a","type":"quantitative"},"order":{"field":"a","type":"quantitative","sort":"descending"}}},
{"transform":[{"filter":"datum.k=='l'"}],"mark":{"type":"line","color":"#22ee22","strokeWidth":1.2,"clip":true},"encoding":{"detail":{"field":"id","type":"nominal"},"strokeDash":{"field":"s","type":"nominal"}}},
{"transform":[{"filter":"datum.k=='v'"}],"mark":{"type":"rule","color":"#ff2222","strokeWidth":1,"clip":true},"encoding":{"x2":{"field":"x2"},"y2":{"field":"y2"}}},
{"transform":[{"filter":"datum.k=='v'"},{"calculate":"atan2(datum.y2-datum.y,datum.x2-datum.x)*180/PI","as":"ang"}],"mark":{"type":"point","shape":"M -1 -0.33 L 0 0 L -1 0.33","filled":false,"color":"#ff2222","strokeWidth":1,"size":400,"opacity":1,"clip":true},"encoding":{"x":{"field":"x2","type":"quantitative"},"y":{"field":"y2","type":"quantitative"},"angle":{"field":"ang","type":"quantitative","scale":null}}},
{"transform":[{"filter":"datum.k=='t'"}],"mark":{"type":"text","font":"Liberation Serif","fontSize":26,"align":"left","baseline":"alphabetic","color":"black"},"encoding":{"text":{"field":"txt"}}}
]},
{"width":211,"height":114,"data":{"name":"b3"},
"encoding":{"x":{"field":"x","type":"quantitative","scale":{"domain":[12,645],"nice":false}},"y":{"field":"y","type":"quantitative","scale":{"domain":[15,357],"nice":false,"reverse":true}}},
"layer":[
{"transform":[{"filter":"datum.k=='d' && datum.g!='k'"}],"mark":{"type":"point","filled":true,"size":230,"clip":true},"encoding":{"color":{"field":"g","type":"nominal"},"opacity":{"field":"a","type":"quantitative"},"order":{"field":"a","type":"quantitative","sort":"descending"}}},
{"transform":[{"filter":"datum.k=='d' && datum.g=='k'"}],"mark":{"type":"point","filled":true,"size":230,"clip":true},"encoding":{"color":{"field":"g","type":"nominal"},"opacity":{"field":"a","type":"quantitative"},"order":{"field":"a","type":"quantitative","sort":"descending"}}},
{"transform":[{"filter":"datum.k=='l'"}],"mark":{"type":"line","color":"#22ee22","strokeWidth":1.2,"clip":true},"encoding":{"detail":{"field":"id","type":"nominal"},"strokeDash":{"field":"s","type":"nominal"}}},
{"transform":[{"filter":"datum.k=='v'"}],"mark":{"type":"rule","color":"#ff2222","strokeWidth":1,"clip":true},"encoding":{"x2":{"field":"x2"},"y2":{"field":"y2"}}},
{"transform":[{"filter":"datum.k=='v'"},{"calculate":"atan2(datum.y2-datum.y,datum.x2-datum.x)*180/PI","as":"ang"}],"mark":{"type":"point","shape":"M -1 -0.33 L 0 0 L -1 0.33","filled":false,"color":"#ff2222","strokeWidth":1,"size":400,"opacity":1,"clip":true},"encoding":{"x":{"field":"x2","type":"quantitative"},"y":{"field":"y2","type":"quantitative"},"angle":{"field":"ang","type":"quantitative","scale":null}}},
{"transform":[{"filter":"datum.k=='t'"}],"mark":{"type":"text","font":"Liberation Serif","fontSize":26,"align":"left","baseline":"alphabetic","color":"black"},"encoding":{"text":{"field":"txt"}}}
]}
],"spacing":4,"bounds":"flush"},
{"hconcat":[
{"width":314,"height":107,"data":{"name":"c1"},
"encoding":{"x":{"field":"x","type":"quantitative","scale":{"domain":[36,978],"nice":false}},"y":{"field":"y","type":"quantitative","scale":{"domain":[12,333],"nice":false,"reverse":true}}},
"layer":[
{"transform":[{"filter":"datum.k=='d' && datum.g!='k'"}],"mark":{"type":"point","filled":true,"size":250,"clip":true},"encoding":{"color":{"field":"g","type":"nominal"},"opacity":{"field":"a","type":"quantitative"},"order":{"field":"a","type":"quantitative","sort":"descending"}}},
{"transform":[{"filter":"datum.k=='d' && datum.g=='k'"}],"mark":{"type":"point","filled":true,"size":210,"clip":true},"encoding":{"color":{"field":"g","type":"nominal"},"opacity":{"field":"a","type":"quantitative"},"order":{"field":"a","type":"quantitative","sort":"descending"}}},
{"transform":[{"filter":"datum.k=='l'"}],"mark":{"type":"line","color":"#22ee22","strokeWidth":1.2,"clip":true},"encoding":{"detail":{"field":"id","type":"nominal"},"strokeDash":{"field":"s","type":"nominal"}}},
{"transform":[{"filter":"datum.k=='v'"}],"mark":{"type":"rule","color":"#ff2222","strokeWidth":1,"clip":true},"encoding":{"x2":{"field":"x2"},"y2":{"field":"y2"}}},
{"transform":[{"filter":"datum.k=='v'"},{"calculate":"atan2(datum.y2-datum.y,datum.x2-datum.x)*180/PI","as":"ang"}],"mark":{"type":"point","shape":"M -1 -0.33 L 0 0 L -1 0.33","filled":false,"color":"#ff2222","strokeWidth":1,"size":576,"opacity":1,"clip":true},"encoding":{"x":{"field":"x2","type":"quantitative"},"y":{"field":"y2","type":"quantitative"},"angle":{"field":"ang","type":"quantitative","scale":null}}},
{"transform":[{"filter":"datum.k=='t'"}],"mark":{"type":"text","font":"Liberation Serif","fontSize":26,"align":"left","baseline":"alphabetic","color":"black"},"encoding":{"text":{"field":"txt"}}}
]},
{"width":317,"height":107,"data":{"name":"c2"},
"encoding":{"x":{"field":"x","type":"quantitative","scale":{"domain":[12,963],"nice":false}},"y":{"field":"y","type":"quantitative","scale":{"domain":[12,333],"nice":false,"reverse":true}}},
"layer":[
{"transform":[{"filter":"datum.k=='d' && datum.g!='k'"}],"mark":{"type":"point","filled":true,"size":250,"clip":true},"encoding":{"color":{"field":"g","type":"nominal"},"opacity":{"field":"a","type":"quantitative"},"order":{"field":"a","type":"quantitative","sort":"descending"}}},
{"transform":[{"filter":"datum.k=='d' && datum.g=='k'"}],"mark":{"type":"point","filled":true,"size":210,"clip":true},"encoding":{"color":{"field":"g","type":"nominal"},"opacity":{"field":"a","type":"quantitative"},"order":{"field":"a","type":"quantitative","sort":"descending"}}},
{"transform":[{"filter":"datum.k=='l'"}],"mark":{"type":"line","color":"#22ee22","strokeWidth":1.2,"clip":true},"encoding":{"detail":{"field":"id","type":"nominal"},"strokeDash":{"field":"s","type":"nominal"}}},
{"transform":[{"filter":"datum.k=='v'"}],"mark":{"type":"rule","color":"#ff2222","strokeWidth":1,"clip":true},"encoding":{"x2":{"field":"x2"},"y2":{"field":"y2"}}},
{"transform":[{"filter":"datum.k=='v'"},{"calculate":"atan2(datum.y2-datum.y,datum.x2-datum.x)*180/PI","as":"ang"}],"mark":{"type":"point","shape":"M -1 -0.33 L 0 0 L -1 0.33","filled":false,"color":"#ff2222","strokeWidth":1,"size":576,"opacity":1,"clip":true},"encoding":{"x":{"field":"x2","type":"quantitative"},"y":{"field":"y2","type":"quantitative"},"angle":{"field":"ang","type":"quantitative","scale":null}}},
{"transform":[{"filter":"datum.k=='t'"}],"mark":{"type":"text","font":"Liberation Serif","fontSize":26,"align":"left","baseline":"alphabetic","color":"black"},"encoding":{"text":{"field":"txt"}}}
]}
],"spacing":10,"bounds":"flush"},
{"hconcat":[
{"width":341,"height":99,"data":{"name":"d1"},
"encoding":{"x":{"field":"x","type":"quantitative","scale":{"domain":[36,1059],"nice":false}},"y":{"field":"y","type":"quantitative","scale":{"domain":[12,309],"nice":false,"reverse":true}}},
"layer":[
{"transform":[{"filter":"datum.k=='d' && datum.g!='k'"}],"mark":{"type":"point","filled":true,"size":270,"clip":true},"encoding":{"color":{"field":"g","type":"nominal"},"opacity":{"field":"a","type":"quantitative"},"order":{"field":"a","type":"quantitative","sort":"descending"}}},
{"transform":[{"filter":"datum.k=='d' && datum.g=='k'"}],"mark":{"type":"point","filled":true,"size":260,"clip":true},"encoding":{"color":{"field":"g","type":"nominal"},"opacity":{"field":"a","type":"quantitative"},"order":{"field":"a","type":"quantitative","sort":"descending"}}},
{"transform":[{"filter":"datum.k=='l'"}],"mark":{"type":"line","color":"#22ee22","strokeWidth":1.2,"clip":true},"encoding":{"detail":{"field":"id","type":"nominal"},"strokeDash":{"field":"s","type":"nominal"}}},
{"transform":[{"filter":"datum.k=='v'"}],"mark":{"type":"rule","color":"#ff2222","strokeWidth":1,"clip":true},"encoding":{"x2":{"field":"x2"},"y2":{"field":"y2"}}},
{"transform":[{"filter":"datum.k=='v'"},{"calculate":"atan2(datum.y2-datum.y,datum.x2-datum.x)*180/PI","as":"ang"}],"mark":{"type":"point","shape":"M -1 -0.33 L 0 0 L -1 0.33","filled":false,"color":"#ff2222","strokeWidth":1,"size":500,"opacity":1,"clip":true},"encoding":{"x":{"field":"x2","type":"quantitative"},"y":{"field":"y2","type":"quantitative"},"angle":{"field":"ang","type":"quantitative","scale":null}}},
{"transform":[{"filter":"datum.k=='t'"}],"mark":{"type":"text","font":"Liberation Serif","fontSize":26,"align":"right","baseline":"alphabetic","color":"black"},"encoding":{"text":{"field":"txt"}}}
]},
{"width":293,"height":99,"data":{"name":"d2"},
"encoding":{"x":{"field":"x","type":"quantitative","scale":{"domain":[12,891],"nice":false}},"y":{"field":"y","type":"quantitative","scale":{"domain":[12,309],"nice":false,"reverse":true}}},
"layer":[
{"transform":[{"filter":"datum.k=='d' && datum.g!='k'"}],"mark":{"type":"point","filled":true,"size":280,"clip":true},"encoding":{"color":{"field":"g","type":"nominal"},"opacity":{"field":"a","type":"quantitative"},"order":{"field":"a","type":"quantitative","sort":"descending"}}},
{"transform":[{"filter":"datum.k=='d' && datum.g=='k'"}],"mark":{"type":"point","filled":true,"size":260,"clip":true},"encoding":{"color":{"field":"g","type":"nominal"},"opacity":{"field":"a","type":"quantitative"},"order":{"field":"a","type":"quantitative","sort":"descending"}}},
{"transform":[{"filter":"datum.k=='l'"}],"mark":{"type":"line","color":"#22ee22","strokeWidth":1.2,"clip":true},"encoding":{"detail":{"field":"id","type":"nominal"},"strokeDash":{"field":"s","type":"nominal"}}},
{"transform":[{"filter":"datum.k=='v'"}],"mark":{"type":"rule","color":"#ff2222","strokeWidth":1,"clip":true},"encoding":{"x2":{"field":"x2"},"y2":{"field":"y2"}}},
{"transform":[{"filter":"datum.k=='v'"},{"calculate":"atan2(datum.y2-datum.y,datum.x2-datum.x)*180/PI","as":"ang"}],"mark":{"type":"point","shape":"M -1 -0.33 L 0 0 L -1 0.33","filled":false,"color":"#ff2222","strokeWidth":1,"size":500,"opacity":1,"clip":true},"encoding":{"x":{"field":"x2","type":"quantitative"},"y":{"field":"y2","type":"quantitative"},"angle":{"field":"ang","type":"quantitative","scale":null}}},
{"transform":[{"filter":"datum.k=='t'"}],"mark":{"type":"text","font":"Liberation Serif","fontSize":26,"align":"right","baseline":"alphabetic","color":"black"},"encoding":{"text":{"field":"txt"}}}
]}
],"spacing":9,"bounds":"flush"},
{"width":642,"height":256,"data":{"name":"e"},
"encoding":{"x":{"field":"x","type":"quantitative","scale":{"domain":[12,654],"nice":false}},"y":{"field":"y","type":"quantitative","scale":{"domain":[524,780],"nice":false,"reverse":true}}},
"layer":[
{"transform":[{"filter":"datum.k=='d' && datum.g!='k'"}],"mark":{"type":"point","filled":true,"size":820,"clip":true},"encoding":{"color":{"field":"g","type":"nominal"},"opacity":{"field":"a","type":"quantitative"},"order":{"field":"a","type":"quantitative","sort":"descending"}}},
{"transform":[{"filter":"datum.k=='d' && datum.g=='k'"}],"mark":{"type":"point","filled":true,"size":820,"clip":true},"encoding":{"color":{"field":"g","type":"nominal"},"opacity":{"field":"a","type":"quantitative"},"order":{"field":"a","type":"quantitative","sort":"descending"}}},
{"transform":[{"filter":"datum.k=='l'"}],"mark":{"type":"line","color":"#22ee22","strokeWidth":1.6,"clip":true},"encoding":{"detail":{"field":"id","type":"nominal"},"strokeDash":{"field":"s","type":"nominal"}}},
{"transform":[{"filter":"datum.k=='v'"}],"mark":{"type":"rule","color":"#ff2222","strokeWidth":1.5,"clip":true},"encoding":{"x2":{"field":"x2"},"y2":{"field":"y2"}}},
{"transform":[{"filter":"datum.k=='v'"},{"calculate":"atan2(datum.y2-datum.y,datum.x2-datum.x)*180/PI","as":"ang"}],"mark":{"type":"point","shape":"M -1 -0.3 L 0 0 L -1 0.3","filled":false,"color":"#ff2222","strokeWidth":1.5,"size":2500,"opacity":1,"clip":true},"encoding":{"x":{"field":"x2","type":"quantitative"},"y":{"field":"y2","type":"quantitative"},"angle":{"field":"ang","type":"quantitative","scale":null}}},
{"transform":[{"filter":"datum.k=='t'"}],"mark":{"type":"text","font":"Liberation Serif","fontSize":26,"align":"left","baseline":"alphabetic","color":"black"},"encoding":{"text":{"field":"txt"}}}
]}
]
}
